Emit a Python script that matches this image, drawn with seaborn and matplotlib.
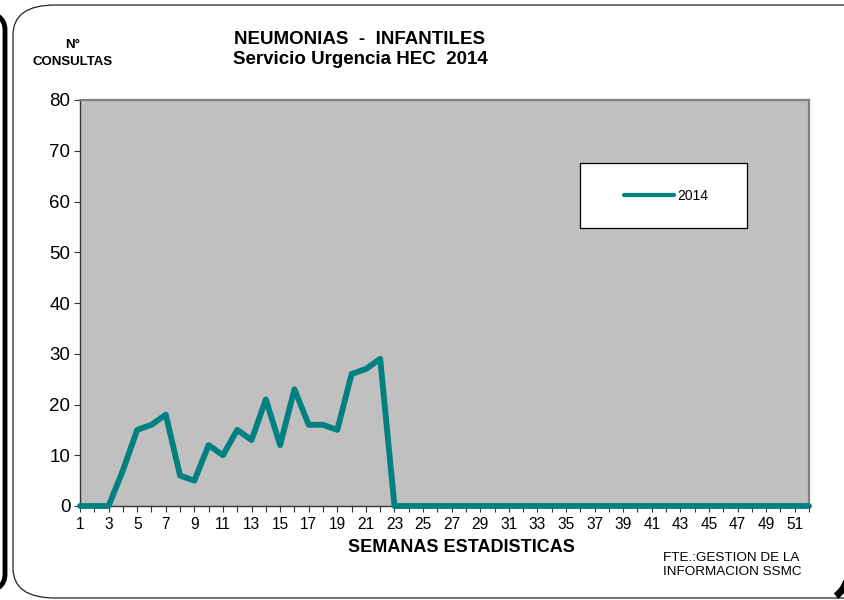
import matplotlib
matplotlib.use("Agg")
import matplotlib.pyplot as plt
from matplotlib.patches import FancyBboxPatch, Rectangle, Arc
import numpy as np
import pandas as pd
import seaborn as sns

# Weekly pneumonia consultations, 2014
semanas = list(range(1, 53))
consultas_2014 = [0, 0, 0, 7, 15, 16, 18, 6, 5, 12, 10, 15, 13, 21, 12, 23, 16, 16, 15, 26,
                  27, 29] + [0] * 30
serie = "2014"
y_ticks = [0, 10, 20, 30, 40, 50, 60, 70, 80]

df = pd.DataFrame({"semana": semanas, "consultas": consultas_2014, "serie": serie})

sns.set_theme(style="white")
plt.rcParams["font.family"] = ["Liberation Sans", "DejaVu Sans"]
plt.rcParams["text.color"] = "black"
plt.rcParams["xtick.color"] = "black"
plt.rcParams["ytick.color"] = "black"

W, H = 845, 600
fig = plt.figure(figsize=(W / 100, H / 100), dpi=100)


def px(x, y):
    return x / W, 1 - y / H


# outer frames
shadow = FancyBboxPatch(px(-400, 592), 405 / W, 580 / H,
                        boxstyle="round,pad=0,rounding_size=0.03",
                        transform=fig.transFigure, fill=False, edgecolor="black",
                        linewidth=3.5, zorder=0)
fig.patches.append(shadow)
frame = FancyBboxPatch(px(13, 598), 880 / W, 593 / H,
                       boxstyle="round,pad=0,rounding_size=0.05",
                       transform=fig.transFigure, facecolor="white", edgecolor="#222222",
                       linewidth=0.9, zorder=0.5)
fig.patches.append(frame)
corner = Arc(px(818, 572), 60 / W, 60 / H, theta1=298, theta2=335,
             transform=fig.transFigure, edgecolor="black", linewidth=5, zorder=1)
fig.patches.append(corner)

ax = fig.add_axes([80 / W, 1 - 506 / H, (809 - 80) / W, (506 - 100) / H])
ax.set_zorder(2)
ax.set_facecolor("#C0C0C0")

sns.lineplot(data=df, x="semana", y="consultas", color="#008080", linewidth=4.2,
             ax=ax, legend=False, clip_on=False, zorder=5)

ax.set_xlim(1, 52)
ax.set_ylim(0, 80)
ax.set_yticks(y_ticks)
ax.set_yticklabels([str(v) for v in y_ticks], fontsize=13.5)
ax.set_xticks(semanas)
ax.set_xticklabels([str(s) if s % 2 == 1 else "" for s in semanas], fontsize=11.2)
ax.tick_params(axis="both", direction="out", length=4, width=0.8, color="#333333",
               left=True, bottom=True, pad=3, labelcolor="black")
ax.tick_params(axis="x", pad=4)
ax.set_xlabel("")
ax.set_ylabel("")
for side in ["left", "bottom"]:
    ax.spines[side].set_color("#333333")
    ax.spines[side].set_linewidth(1.0)
for side in ["top", "right"]:
    ax.spines[side].set_color("#808080")
    ax.spines[side].set_linewidth(1.6)
    ax.spines[side].set_visible(True)

# legend box
box = Rectangle(px(580, 228), (747 - 580) / W, (228 - 163) / H, transform=fig.transFigure,
                facecolor="white", edgecolor="black", linewidth=0.9, zorder=3)
fig.patches.append(box)
handle = plt.Line2D([], [], color="#008080", linewidth=3)
leg = fig.legend([handle], [serie], loc="center", bbox_to_anchor=px(666, 196),
                 frameon=False, fontsize=10, handlelength=3.6, handletextpad=0.25)
leg.set_zorder(4)

# texts
fig.text(*px(360, 39), "NEUMONIAS  -  INFANTILES", ha="center", va="center",
         fontsize=13.5, fontweight="bold")
fig.text(*px(360, 60), "Servicio Urgencia HEC  2014", ha="center", va="center",
         fontsize=13.5, fontweight="bold")
fig.text(*px(73, 45), "N°", ha="center", va="center", fontsize=9.5, fontweight="bold")
fig.text(*px(73, 62), "CONSULTAS", ha="center", va="center", fontsize=9.5, fontweight="bold")
fig.text(*px(461, 548), "SEMANAS ESTADISTICAS", ha="center", va="center",
         fontsize=13, fontweight="bold")
fig.text(*px(663, 565), "FTE.:GESTION DE LA\nINFORMACION SSMC", ha="left", va="center",
         fontsize=9.7, linespacing=1.3)

fig.savefig("out.png", dpi=100)
